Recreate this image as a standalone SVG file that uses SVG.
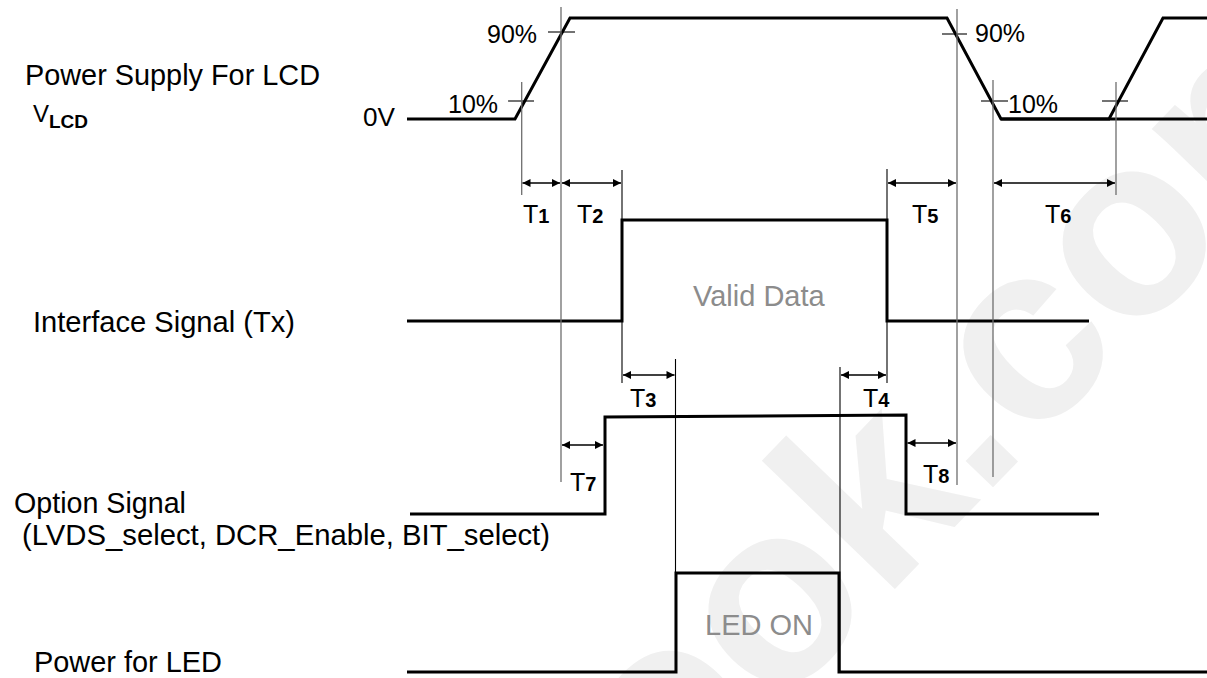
<svg xmlns="http://www.w3.org/2000/svg" width="1207" height="678" viewBox="0 0 1207 678">
<style>
text{font-family:"Liberation Sans",Arial,sans-serif;fill:#000}
.lbl{font-size:29px}
.pct{font-size:25px}
.tl{font-size:25px}
.sub{font-size:20px;font-weight:bold}
.gray{fill:#8c8c8c;font-size:29px}
.sig{fill:none;stroke:#000;stroke-width:3;stroke-linejoin:miter}
.ref{fill:none;stroke:#6e6e6e;stroke-width:1.3}
.thin{fill:none;stroke:#000;stroke-width:1.1}
.dim{fill:none;stroke:#000;stroke-width:1.4;marker-start:url(#ah);marker-end:url(#ah)}
.wm{font-family:"Liberation Sans",Arial,sans-serif;font-size:255px;font-weight:bold;fill:#f0f0f0}
</style>
<defs>
<marker id="ah" viewBox="0 0 10 10" refX="10" refY="5" markerWidth="9" markerHeight="8" markerUnits="userSpaceOnUse" orient="auto-start-reverse">
<path d="M0,0 L10,5 L0,10 z" fill="#000"/>
</marker>
</defs>
<rect width="1207" height="678" fill="#fff"/>
<g id="watermark">
<text class="wm" transform="translate(558,938) rotate(-46)">book.com</text>
</g>
<g id="labels">
<text class="lbl" x="25" y="85" textLength="295" lengthAdjust="spacingAndGlyphs">Power Supply For LCD</text>
<text x="33" y="122" font-size="24">V<tspan font-size="19" font-weight="bold" dy="6">LCD</tspan></text>
<text x="363" y="126" font-size="25" textLength="32" lengthAdjust="spacingAndGlyphs">0V</text>
<text class="lbl" x="33" y="332" textLength="262" lengthAdjust="spacingAndGlyphs">Interface Signal (Tx)</text>
<text class="lbl" x="14" y="513" textLength="172" lengthAdjust="spacingAndGlyphs">Option Signal</text>
<text class="lbl" x="22" y="545" textLength="528" lengthAdjust="spacingAndGlyphs">(LVDS_select, DCR_Enable, BIT_select)</text>
<text class="lbl" x="34" y="672" textLength="188" lengthAdjust="spacingAndGlyphs">Power for LED</text>
</g>
<g id="vlcd">
<polyline class="sig" points="407,119 515,119 570,18 947,18 1001,119 1109,119 1163,18 1207,18"/>
<line class="sig" x1="1001" y1="119" x2="1207" y2="119"/>
<text class="pct" x="487" y="43">90%</text>
<text class="pct" x="448" y="113">10%</text>
<text class="pct" x="975" y="42">90%</text>
<text class="pct" x="1008" y="113">10%</text>
<line class="thin" x1="548" y1="32" x2="575" y2="32"/>
<line class="thin" x1="508" y1="101" x2="534" y2="101"/>
<line class="thin" x1="942" y1="34" x2="967" y2="34"/>
<line class="thin" x1="981" y1="101" x2="1008" y2="101"/>
<line class="thin" x1="1102" y1="101" x2="1128" y2="101"/>
</g>
<g id="interface">
<polyline class="sig" points="407,321 622,321 622,220 887,220 887,321 1089,321"/>
<text class="gray" x="693" y="306">Valid Data</text>
</g>
<g id="option">
<polyline class="sig" points="410,514 605,514 605,417 906,415 906,514 1099,514"/>
</g>
<g id="led">
<polyline class="sig" points="407,672 676,672 676,573 839,573 839,672 1207,672"/>
<text class="gray" x="705" y="635">LED ON</text>
</g>
<g id="connectors">
<line class="ref" x1="561" y1="7" x2="561" y2="482"/>
<line class="ref" x1="521.7" y1="82" x2="521.7" y2="195"/>
<line class="ref" x1="957" y1="9" x2="957" y2="485"/>
<line class="ref" x1="993" y1="80" x2="993" y2="477"/>
<line class="ref" x1="1116" y1="82" x2="1116" y2="195"/>
<line class="thin" x1="622" y1="170" x2="622" y2="383"/>
<line class="thin" x1="887" y1="169" x2="887" y2="383"/>
<line class="thin" x1="675.5" y1="359" x2="675.5" y2="672"/>
<line class="thin" x1="840" y1="367" x2="840" y2="672"/>
<line class="dim" x1="522.5" y1="183" x2="560" y2="183"/>
<line class="dim" x1="562" y1="183" x2="621" y2="183"/>
<line class="dim" x1="888" y1="183" x2="956" y2="183"/>
<line class="dim" x1="994" y1="183" x2="1115" y2="183"/>
<line class="dim" x1="623" y1="375" x2="674.5" y2="375"/>
<line class="dim" x1="841" y1="375" x2="886" y2="375"/>
<line class="dim" x1="562" y1="445" x2="603" y2="445"/>
<line class="dim" x1="907.5" y1="443" x2="956" y2="443"/>
</g>
<g id="timing-labels">
<text class="tl" x="523" y="223">T<tspan class="sub">1</tspan></text>
<text class="tl" x="577" y="223">T<tspan class="sub">2</tspan></text>
<text class="tl" x="630" y="407">T<tspan class="sub">3</tspan></text>
<text class="tl" x="863" y="407">T<tspan class="sub">4</tspan></text>
<text class="tl" x="912" y="223">T<tspan class="sub">5</tspan></text>
<text class="tl" x="1045" y="223">T<tspan class="sub">6</tspan></text>
<text class="tl" x="570" y="491">T<tspan class="sub">7</tspan></text>
<text class="tl" x="923" y="483">T<tspan class="sub">8</tspan></text>
</g>
</svg>
